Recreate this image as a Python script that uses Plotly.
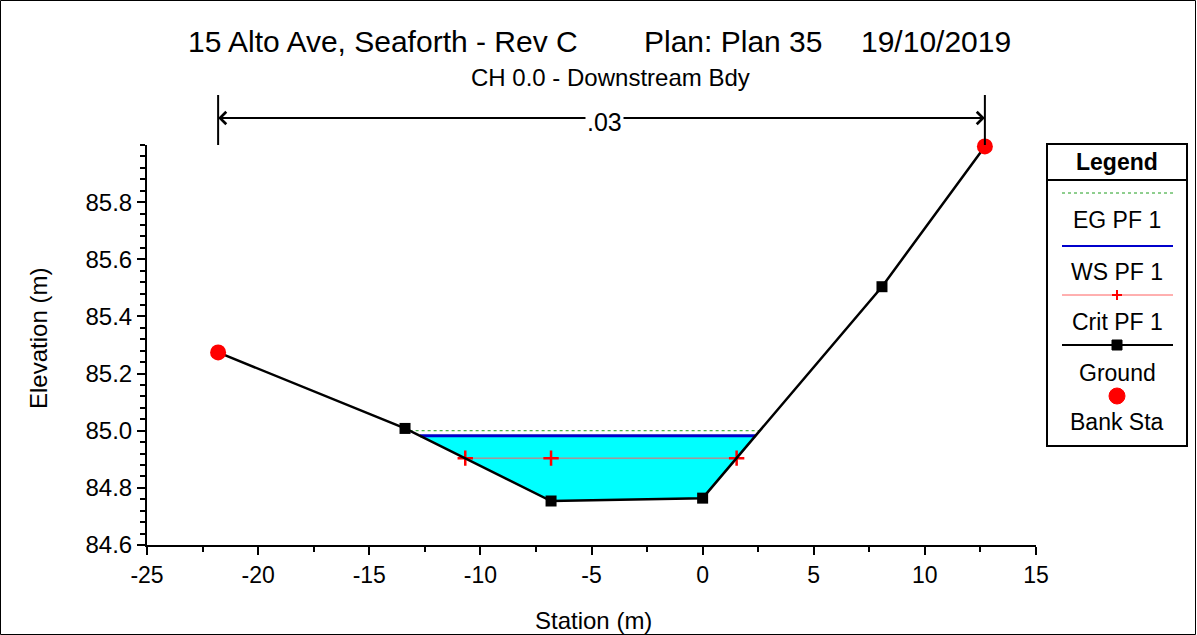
import numpy as np
import plotly.graph_objects as go

# ---- data ----
ground_station = [-21.8, -13.39, -6.82, 0.0, 8.07, 12.7]
ground_elev = [85.274, 85.008, 84.754, 84.764, 85.504, 85.995]
bank_station = [-21.8, 12.7]
bank_elev = [85.274, 85.995]
ws_elev = 84.982
eg_elev = 85.0
crit_elev = 84.904
crit_station = [-10.68, -6.82, 1.53]
n_value = ".03"
x_ticks = [-25, -20, -15, -10, -5, 0, 5, 10, 15]
y_ticks = [84.6, 84.8, 85.0, 85.2, 85.4, 85.6, 85.8]

FONT = "Liberation Sans, Arial, sans-serif"
W, H = 1197, 635
L, R, T, B = 147, 1036, 145, 545


def px(xp):
    return (xp - L) / (R - L)


def py(yp):
    return (B - yp) / (B - T)


gs = np.array(ground_station)
ge = np.array(ground_elev)


def crossings(level):
    imin = int(np.argmin(ge))
    left = np.interp(level, ge[:imin + 1][::-1], gs[:imin + 1][::-1])
    right = np.interp(level, ge[imin:], gs[imin:])
    return left, right


wl, wr = crossings(ws_elev)
el, er = crossings(eg_elev)
cl, cr = crossings(crit_elev)

inside = [(s, e) for s, e in zip(ground_station, ground_elev) if wl < s < wr]
fill_x = [wl] + [p[0] for p in inside] + [wr, wl]
fill_y = [ws_elev] + [p[1] for p in inside] + [ws_elev, ws_elev]

fig = go.Figure()
fig.add_trace(go.Scatter(x=fill_x, y=fill_y, fill="toself", fillcolor="#00FFFF",
                         line=dict(width=0), mode="lines", hoverinfo="skip"))
fig.add_trace(go.Scatter(x=[el, er], y=[eg_elev, eg_elev], mode="lines",
                         line=dict(color="#1E9E1E", width=1, dash="dot"), name="EG PF 1"))
fig.add_trace(go.Scatter(x=[wl, wr], y=[ws_elev, ws_elev], mode="lines",
                         line=dict(color="#0000CC", width=3), name="WS PF 1"))
fig.add_trace(go.Scatter(x=[cl, cr], y=[crit_elev, crit_elev], mode="lines",
                         line=dict(color="#FF6060", width=1), name="Crit PF 1"))
fig.add_trace(go.Scatter(x=crit_station, y=[crit_elev] * len(crit_station), mode="markers",
                         marker=dict(symbol="cross-thin", size=11,
                                     line=dict(color="#FF0000", width=2.5)),
                         showlegend=False))
fig.add_trace(go.Scatter(x=ground_station, y=ground_elev, mode="lines+markers",
                         line=dict(color="black", width=2.5),
                         marker=dict(symbol="square", size=11, color="black"),
                         name="Ground", cliponaxis=False))
fig.add_trace(go.Scatter(x=bank_station, y=bank_elev, mode="markers",
                         marker=dict(symbol="circle", size=16, color="#FF0000"),
                         name="Bank Sta", cliponaxis=False))

shapes = []
annotations = []


def text(x, y, s, size, xref="paper", angle=0):
    annotations.append(dict(x=x, y=y, xref=xref, yref="paper", text=s, showarrow=False,
                            xanchor="center", yanchor="middle", textangle=angle,
                            font=dict(family=FONT, size=size, color="black")))


# outer border
shapes.append(dict(type="rect", xref="paper", yref="paper",
                   x0=px(0.5), x1=px(W - 1.5), y0=py(H - 0.5), y1=py(0.5),
                   line=dict(color="black", width=1)))

# bank station vertical lines and n-value arrow
for s in bank_station:
    shapes.append(dict(type="line", xref="x", yref="paper", x0=s, x1=s,
                       y0=py(95), y1=py(145), line=dict(color="black", width=2)))
mid = (bank_station[0] + bank_station[1]) / 2
for head, tail in [(bank_station[0], mid), (bank_station[1], mid)]:
    annotations.append(dict(x=head, y=py(118), xref="x", yref="paper",
                            ax=tail, ay=0, axref="x", ayref="pixel", text="",
                            showarrow=True, arrowhead=4, arrowsize=1.2, arrowwidth=2,
                            arrowcolor="black", standoff=0))
annotations.append(dict(x=-4.4, y=py(122), xref="x", yref="paper", text=n_value,
                        showarrow=False, bgcolor="white", borderpad=1,
                        xanchor="center", yanchor="middle",
                        font=dict(family=FONT, size=25, color="black")))

# titles
for txt, xc in [("15 Alto Ave, Seaforth - Rev C", 383), ("Plan: Plan 35", 733),
                ("19/10/2019", 936)]:
    text(px(xc), py(42), txt, 30)
text(px(610), py(77), "CH 0.0 - Downstream Bdy", 24)

# axis titles
text(px(593), py(620), "Station (m)", 24)
text(px(38), py(339), "Elevation (m)", 24, angle=-90)

# custom legend
lx0, lx1 = px(1047), px(1187)
shapes.append(dict(type="rect", xref="paper", yref="paper", x0=lx0, x1=lx1,
                   y0=py(446), y1=py(144), line=dict(color="black", width=2),
                   fillcolor="white"))
shapes.append(dict(type="line", xref="paper", yref="paper", x0=lx0, x1=lx1,
                   y0=py(180), y1=py(180), line=dict(color="black", width=2)))
lcx = px(1117)
text(lcx, py(162), "<b>Legend</b>", 23)
sx0, sx1 = px(1062), px(1173)
shapes.append(dict(type="line", xref="paper", yref="paper", x0=sx0, x1=sx1,
                   y0=py(193), y1=py(193), line=dict(color="#1E9E1E", width=1, dash="dot")))
shapes.append(dict(type="line", xref="paper", yref="paper", x0=sx0, x1=sx1,
                   y0=py(246), y1=py(246), line=dict(color="#0000CC", width=2)))
shapes.append(dict(type="line", xref="paper", yref="paper", x0=sx0, x1=sx1,
                   y0=py(295), y1=py(295), line=dict(color="#FF6060", width=1)))
shapes.append(dict(type="line", xref="paper", yref="paper", x0=sx0, x1=sx1,
                   y0=py(345), y1=py(345), line=dict(color="black", width=2)))
shapes.append(dict(type="line", xref="paper", yref="paper", x0=px(1112), x1=px(1122),
                   y0=py(295), y1=py(295), line=dict(color="#FF0000", width=2)))
shapes.append(dict(type="line", xref="paper", yref="paper", x0=lcx, x1=lcx,
                   y0=py(290), y1=py(300), line=dict(color="#FF0000", width=2)))
shapes.append(dict(type="rect", xref="paper", yref="paper", x0=px(1112), x1=px(1122),
                   y0=py(350), y1=py(340), line=dict(color="black", width=1),
                   fillcolor="black"))
shapes.append(dict(type="circle", xref="paper", yref="paper", x0=px(1109), x1=px(1125),
                   y0=py(404), y1=py(388), line=dict(color="#FF0000", width=1),
                   fillcolor="#FF0000"))
for txt, yc in [("EG PF 1", 220), ("WS PF 1", 272), ("Crit PF 1", 322),
                ("Ground", 373), ("Bank Sta", 422)]:
    text(lcx, py(yc), txt, 23)

fig.update_layout(
    width=W, height=H,
    margin=dict(l=L, r=W - R, t=T, b=H - B, autoexpand=False),
    paper_bgcolor="white", plot_bgcolor="white",
    showlegend=False,
    shapes=shapes, annotations=annotations,
    font=dict(family=FONT, color="black"),
)
fig.update_xaxes(range=[-25, 15], tickvals=x_ticks, ticktext=[str(v) for v in x_ticks],
                 showgrid=False, zeroline=False, showline=True, linecolor="black",
                 linewidth=2, ticks="outside", ticklen=8, tickwidth=2, tickcolor="black",
                 minor=dict(dtick=2.5, ticks="outside", ticklen=5, tickwidth=2,
                            tickcolor="black", showgrid=False),
                 tickfont=dict(family=FONT, size=23), automargin=False)
fig.update_yaxes(range=[84.6, 86.0], tickvals=y_ticks, ticktext=[f"{v:.1f}" for v in y_ticks],
                 showgrid=False, zeroline=False, showline=True, linecolor="black",
                 linewidth=2, ticks="outside", ticklen=8, tickwidth=2, tickcolor="black",
                 minor=dict(dtick=0.04, ticks="outside", ticklen=5, tickwidth=2,
                            tickcolor="black", showgrid=False),
                 tickfont=dict(family=FONT, size=24), automargin=False)

fig.write_html("out.html", config={"displayModeBar": False},
               post_script="document.body.style.margin='0px';document.body.style.overflow='hidden';")
